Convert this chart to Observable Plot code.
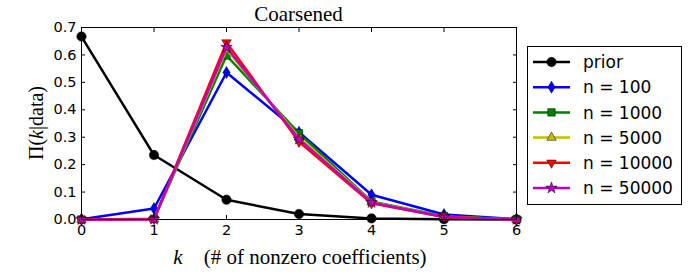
<!DOCTYPE html>
<html><head><meta charset="utf-8">
<script src="https://cdn.jsdelivr.net/npm/d3@7"></script>
<script src="https://cdn.jsdelivr.net/npm/@observablehq/plot@0.6"></script>
<style>body{margin:0;background:#fff;} svg{display:block;}</style>
</head><body><div id="chart"></div>
<script>
const ks = [0, 1, 2, 3, 4, 5, 6];
const seriesNames = ["prior", "n = 100", "n = 1000", "n = 5000", "n = 10000", "n = 50000"];
const prior  = [0.667, 0.235, 0.072, 0.020, 0.004, 0.0008, 0.0001];
const n100   = [0.001, 0.040, 0.536, 0.318, 0.090, 0.018, 0.001];
const n1000  = [0.000, 0.003, 0.598, 0.314, 0.066, 0.012, 0.0005];
const n5000  = [0.000, 0.001, 0.620, 0.300, 0.064, 0.010, 0.0003];
const n10000 = [0.000, 0.001, 0.645, 0.283, 0.059, 0.009, 0.0002];
const n50000 = [0.000, 0.001, 0.628, 0.293, 0.062, 0.009, 0.0002];
const xTicks = [0, 1, 2, 3, 4, 5, 6];
const yTicks = [0, 0.1, 0.2, 0.3, 0.4, 0.5, 0.6, 0.7];
const colors = ["#000000", "#0000ff", "#008000", "#bfbf00", "#ff0000", "#bf00bf"];

const triDown = {draw(ctx, size) {const r = Math.sqrt(size) * 0.66; ctx.moveTo(0, r); ctx.lineTo(r * 0.866, -r / 2); ctx.lineTo(-r * 0.866, -r / 2); ctx.closePath();}};
const triUp = {draw(ctx, size) {const r = Math.sqrt(size) * 0.66; ctx.moveTo(0, -r); ctx.lineTo(r * 0.866, r / 2); ctx.lineTo(-r * 0.866, r / 2); ctx.closePath();}};
const thinDiamond = {draw(ctx, size) {const h = Math.sqrt(size) * 0.72; const w = h * 0.6; ctx.moveTo(0, -h); ctx.lineTo(w, 0); ctx.lineTo(0, h); ctx.lineTo(-w, 0); ctx.closePath();}};
const square = {draw(ctx, size) {const s = Math.sqrt(size) * 0.45; ctx.rect(-s, -s, 2 * s, 2 * s);}};
const star = {draw(ctx, size) {d3.symbolStar.draw(ctx, size * 0.6);}};
const symbols = [d3.symbolCircle, thinDiamond, square, triUp, triDown, star];

const allValues = [prior, n100, n1000, n5000, n10000, n50000];
const marks = [];
allValues.forEach((vals, i) => {
  const data = ks.map((k, j) => ({k, v: vals[j]}));
  marks.push(Plot.line(data, {x: "k", y: "v", stroke: colors[i], strokeWidth: 2.5}));
  marks.push(Plot.dot(data, {x: "k", y: "v", fill: colors[i], stroke: "#000", strokeWidth: 0.5, r: 4.7, symbol: symbols[i]}));
});

const W = 690, H = 275;
const plot = Plot.plot({
  width: W, height: H,
  marginLeft: 81, marginRight: 174, marginTop: 27, marginBottom: 56,
  x: {domain: [0, 6], label: null},
  y: {domain: [0, 0.7], label: null},
  style: {background: "#fff", overflow: "visible"},
  marks: [
    ...marks,
    Plot.frame({stroke: "#000", strokeWidth: 1}),
    Plot.axisX(xTicks, {anchor: "bottom", tickSize: -4, tickFormat: () => "", stroke: "#000", label: null}),
    Plot.axisX(xTicks, {anchor: "top", tickSize: -4, tickFormat: () => "", stroke: "#000", label: null}),
    Plot.axisY(yTicks, {anchor: "left", tickSize: -4, tickFormat: () => "", stroke: "#000", label: null}),
    Plot.axisY(yTicks, {anchor: "right", tickSize: -4, tickFormat: () => "", stroke: "#000", label: null}),
    Plot.axisX(xTicks, {anchor: "bottom", tickSize: 0, tickPadding: 5, tickFormat: d3.format("d"), fontSize: 14.5, fontFamily: "DejaVu Sans", fill: "#000", label: null}),
    Plot.axisY(yTicks, {anchor: "left", tickSize: 0, tickPadding: 5, tickFormat: d3.format(".1f"), fontSize: 14.5, fontFamily: "DejaVu Sans", fill: "#000", label: null})
  ]
});
document.getElementById("chart").appendChild(plot);

const svg = d3.select(plot);
const serif = "'Liberation Serif', 'DejaVu Serif', serif";
// title
svg.append("text").attr("x", 298.5).attr("y", 21).attr("text-anchor", "middle")
  .attr("font-family", serif).attr("font-size", 21).attr("fill", "#000").text("Coarsened");
// x label
const xl = svg.append("text").attr("x", 300).attr("y", 264).attr("text-anchor", "middle")
  .attr("font-family", serif).attr("font-size", 21).attr("fill", "#000").attr("xml:space", "preserve");
xl.append("tspan").attr("font-style", "italic").text("k");
xl.append("tspan").text("\u2002\u2002(# of nonzero coefficients)");
// y label
const yl = svg.append("text").attr("transform", "translate(43,123) rotate(-90)").attr("text-anchor", "middle")
  .attr("font-family", serif).attr("font-size", 20).attr("fill", "#000");
yl.append("tspan").text("\u03a0(");
yl.append("tspan").attr("font-style", "italic").text("k");
yl.append("tspan").text("|data)");

// legend
const lg = svg.append("g");
lg.append("rect").attr("x", 527.5).attr("y", 46.5).attr("width", 154).attr("height", 158)
  .attr("fill", "#fff").attr("stroke", "#000").attr("stroke-width", 1);
seriesNames.forEach((name, i) => {
  const y = 62 + i * 25.2;
  lg.append("line").attr("x1", 533).attr("x2", 570).attr("y1", y).attr("y2", y)
    .attr("stroke", colors[i]).attr("stroke-width", 2.5);
  lg.append("path").attr("d", d3.symbol(symbols[i], Math.PI * 4.7 * 4.7)())
    .attr("transform", `translate(551.5,${y})`).attr("fill", colors[i]).attr("stroke", "#000").attr("stroke-width", 0.5);
  lg.append("text").attr("x", 583).attr("y", y).attr("dy", "0.36em").attr("text-anchor", "start")
    .attr("font-family", "DejaVu Sans").attr("font-size", 17).attr("fill", "#000").text(name);
});
</script></body></html>
